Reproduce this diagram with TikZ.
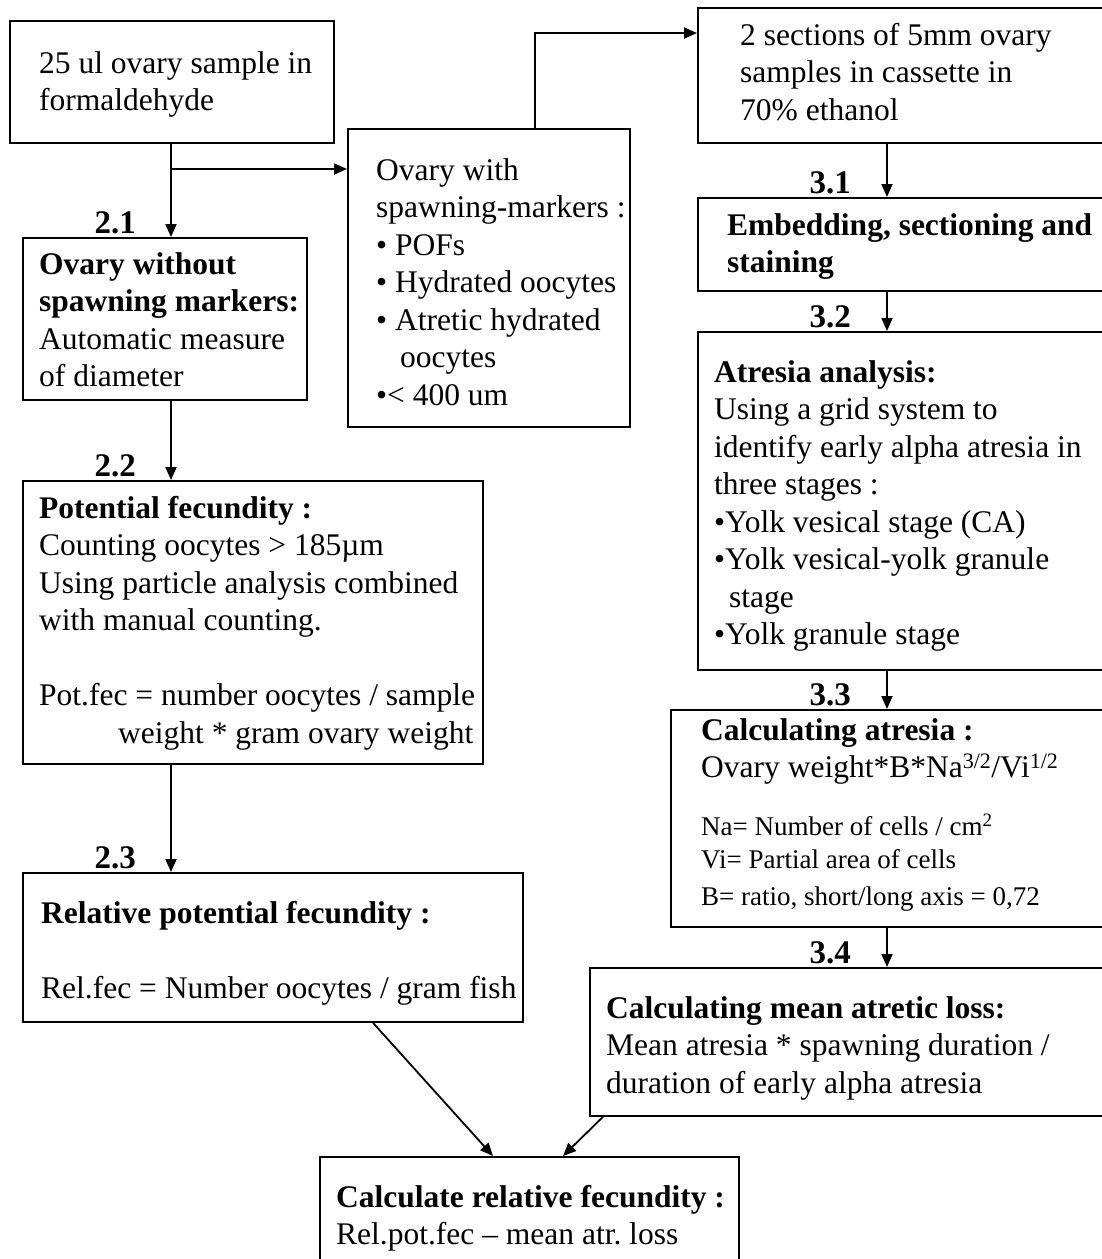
\documentclass[tikz,border=0pt]{standalone}
\usepackage{fontspec}
\setmainfont{Liberation Serif}
\usetikzlibrary{arrows.meta, calc}

\begin{document}
\begin{tikzpicture}[x=1pt, y=-1pt,
    box/.style={draw, line width=1.8pt, inner sep=0pt, anchor=north west},
    txt/.style={anchor=base west, align=flush left, inner sep=0pt, text width=520pt,
        font=\fontsize{31.5}{37.5}\selectfont\frenchspacing},
    lbl/.style={anchor=base east, inner sep=0pt, font=\fontsize{33}{36}\selectfont\bfseries},
    arr/.style={line width=1.8pt, -{Triangle[length=13pt, width=11pt]}}]
    \useasboundingbox (0,0) rectangle (1101,1259);

    % Left column
    \node[box, minimum width=324, minimum height=122] (sample) at (9,20) {};
    \node[txt] (tsample) at ($(sample.north west)+(30,53)$) {25 ul ovary sample in\\formaldehyde};

    \node[box, minimum width=284, minimum height=162] (nomark) at (22,237) {};
    \node[txt] (tnomark) at ($(nomark.north west)+(17,37)$)
        {\textbf{Ovary without}\\\textbf{spawning markers:}\\Automatic measure\\of diameter};

    \node[box, minimum width=460, minimum height=283] (potfec) at (22,480) {};
    \node[txt] (tpotfec) at ($(potfec.north west)+(17,38)$)
        {\textbf{Potential fecundity :}\\Counting oocytes > 185µm\\Using particle analysis combined\\with manual counting.\\[37.5pt]Pot.fec = number oocytes / sample\\\hspace*{79pt}weight * gram ovary weight};

    \node[box, minimum width=500, minimum height=149] (relfec) at (22,872) {};
    \node[txt] (trelfec) at ($(relfec.north west)+(19,51)$)
        {\textbf{Relative potential fecundity :}\\[37.5pt]Rel.fec = Number oocytes / gram fish};

    % Middle
    \node[box, minimum width=282, minimum height=298] (withmark) at (347,128) {};
    \node[txt] (twithmark) at ($(withmark.north west)+(29,52)$)
        {Ovary with\\spawning-markers :\\• POFs\\• Hydrated oocytes\\• Atretic hydrated\\\hspace*{24pt}oocytes\\•< 400 um};

    \node[box, minimum width=419, minimum height=130] (final) at (319,1156) {};
    \node[txt] (tfinal) at ($(final.north west)+(17,51)$)
        {\textbf{Calculate relative fecundity :}\\Rel.pot.fec – mean atr. loss};

    % Right column
    \node[box, minimum width=443, minimum height=135] (sections) at (697,7) {};
    \node[txt] (tsections) at ($(sections.north west)+(43,38)$)
        {2 sections of 5mm ovary\\samples in cassette in\\70\% ethanol};

    \node[box, minimum width=443, minimum height=93] (embed) at (697,197) {};
    \node[txt] (tembed) at ($(embed.north west)+(30,38)$)
        {\textbf{Embedding, sectioning and}\\\textbf{staining}};

    \node[box, minimum width=443, minimum height=338] (atresia) at (697,331) {};
    \node[txt] (tatresia) at ($(atresia.north west)+(17,51)$)
        {\textbf{Atresia analysis:}\\Using a grid system to\\identify early alpha atresia in\\three stages :\\•Yolk vesical stage (CA)\\•Yolk vesical-yolk granule\\\hspace*{15pt}stage\\•Yolk granule stage};

    \node[box, minimum width=470, minimum height=217] (calcatr) at (670,709) {};
    \node[txt] (tcalcatr) at ($(calcatr.north west)+(31,31)$)
        {\textbf{Calculating atresia :}\\Ovary weight*B*Na\textsuperscript{3/2}/Vi\textsuperscript{1/2}\par\vspace{25.5pt}
         \fontsize{27}{32.5}\selectfont Na= Number of cells / cm\textsuperscript{2}\\Vi= Partial area of cells\\B= ratio, short/long axis = 0,72};

    \node[box, minimum width=551, minimum height=148] (loss) at (589,967) {};
    \node[txt] (tloss) at ($(loss.north west)+(17,51)$)
        {\textbf{Calculating mean atretic loss:}\\Mean atresia * spawning duration /\\duration of early alpha atresia};

    % Connectors
    \coordinate (lx) at (171,0);
    \coordinate (rx) at (887,0);
    \coordinate (split) at (171,169);
    \coordinate (bend) at (535,33);

    \draw[arr] (sample.south -| lx) -- (nomark.north -| lx);
    \draw[arr] (split) -- (split -| withmark.west);
    \draw[arr] (nomark.south -| lx) -- (potfec.north -| lx);
    \draw[arr] (potfec.south -| lx) -- (relfec.north -| lx);
    \draw[arr] (withmark.north -| bend) -- (bend) -- (bend -| sections.west);
    \draw[arr] (sections.south -| rx) -- (embed.north -| rx);
    \draw[arr] (embed.south -| rx) -- (atresia.north -| rx);
    \draw[arr] (atresia.south -| rx) -- (calcatr.north -| rx);
    \draw[arr] (calcatr.south -| rx) -- (loss.north -| rx);
    \draw[arr] ($(relfec.south west)+(351,0)$) -- ($(final.north west)+(174,0)$);
    \draw[arr] ($(loss.south west)+(14,0)$) -- ($(final.north west)+(244,0)$);

    % Step numbers
    \node[lbl] (n21) at ($(nomark.north -| lx)+(-35,-4)$) {2.1};
    \node[lbl] (n22) at ($(potfec.north -| lx)+(-35,-4)$) {2.2};
    \node[lbl] (n23) at ($(relfec.north -| lx)+(-35,-4)$) {2.3};
    \node[lbl] (n31) at ($(embed.north -| rx)+(-36,-4)$) {3.1};
    \node[lbl] (n32) at ($(atresia.north -| rx)+(-36,-4)$) {3.2};
    \node[lbl] (n33) at ($(calcatr.north -| rx)+(-36,-4)$) {3.3};
    \node[lbl] (n34) at ($(loss.north -| rx)+(-36,-4)$) {3.4};
\end{tikzpicture}
\end{document}
